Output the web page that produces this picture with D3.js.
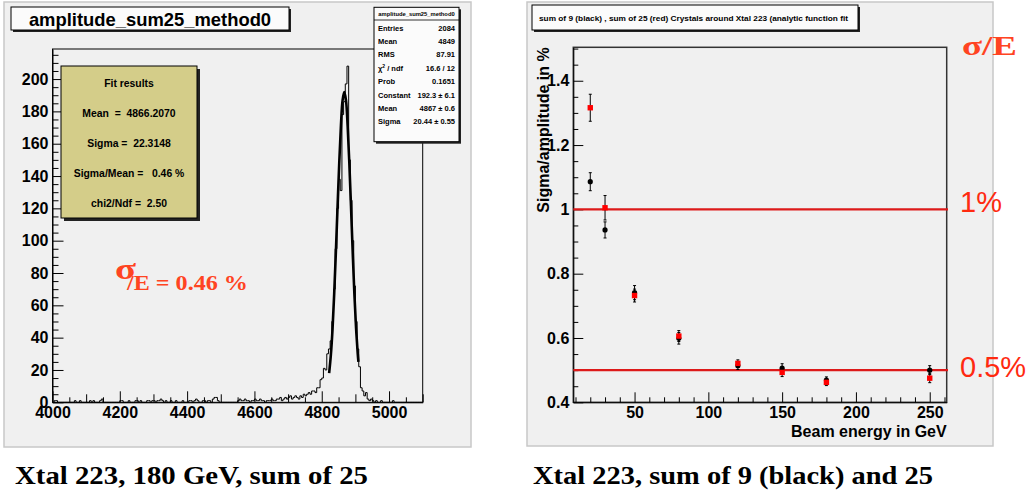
<!DOCTYPE html>
<html>
<head>
<meta charset="utf-8">
<script src="https://cdn.jsdelivr.net/npm/d3@7"></script>
<style>
body { margin: 0; background: #fff; }
</style>
</head>
<body>
<div class="canvas"></div>
<script>
// ---- left: amplitude histogram (5 unit bins from 4000) ----
const histStart = 4000;
const histEnd = 5100;
const binWidth = 5;
const counts = [
    0, 1, 1, 0, 0, 0, 0, 0, 0, 0, 0, 0, 0, 1, 0, 0, 1, 0, 0, 0,
    0, 0, 1, 0, 1, 0, 0, 0, 1, 2, 0, 0, 0, 0, 0, 0, 0, 0, 0, 0,
    1, 1, 0, 0, 0, 1, 0, 0, 0, 1, 1, 0, 1, 0, 0, 0, 1, 1, 0, 1,
    1, 0, 1, 1, 2, 1, 0, 1, 0, 0, 1, 0, 0, 1, 0, 0, 0, 1, 0, 0,
    0, 1, 1, 0, 1, 2, 1, 0, 0, 1, 1, 0, 1, 1, 0, 2, 3, 3, 1, 0,
    0, 0, 0, 0, 0, 0, 0, 0, 0, 0, 1, 2, 1, 1, 2, 1, 1, 0, 1, 1,
    2, 1, 1, 2, 1, 1, 0, 1, 1, 1, 2, 1, 1, 2, 2, 3, 1, 2, 3, 2,
    3, 4, 2, 3, 4, 3, 2, 4, 3, 5, 4, 5, 6, 5, 7, 7, 6, 9, 9, 14,
    15, 21, 20, 30, 33, 38, 50, 70, 95, 120, 138, 131, 178, 186, 197, 208, 150, 125, 100, 72,
    50, 33, 22, 9, 7, 4, 6, 2, 1, 2, 1, 0, 1, 0, 0, 1, 0, 0, 0, 0,
    0, 0, 1, 0, 0, 0, 0, 0, 0, 0, 0, 0, 0, 0, 0, 0, 0, 0, 0, 0
];
// gaussian fit curve
const fitE = [4822, 4827, 4832, 4837, 4842, 4847, 4852, 4857, 4862, 4867, 4872, 4877, 4882, 4887, 4892, 4897, 4902, 4907, 4909];
const fitN = [18, 29, 45, 67, 93, 121, 148, 171, 187, 192, 187, 171, 148, 121, 93, 67, 46, 30, 25];
const histXTicks = [4000, 4200, 4400, 4600, 4800, 5000];
const histYTicks = [0, 20, 40, 60, 80, 100, 120, 140, 160, 180, 200];
const statNames = ['Entries', 'Mean', 'RMS', 'χ', 'Prob', 'Constant', 'Mean', 'Sigma'];
const statValues = ['2084', '4849', '87.91', '16.6 / 12', '0.1651', '192.3 ± 6.1', '4867 ± 0.6', '20.44 ± 0.55'];
const fitLines = ['Fit results', 'Mean  =  4866.2070', 'Sigma =  22.3148', 'Sigma/Mean =   0.46 %', 'chi2/Ndf =  2.50'];

// ---- right: resolution vs beam energy ----
const energies = [20, 30, 50, 80, 120, 150, 180, 250];
const res9 = [1.086, 0.936, 0.741, 0.599, 0.514, 0.506, 0.469, 0.500];
const err9 = [0.028, 0.025, 0.022, 0.018, 0.012, 0.014, 0.010, 0.014];
const res25 = [1.316, 1.005, 0.732, 0.606, 0.521, 0.493, 0.462, 0.475];
const err25 = [0.042, 0.038, 0.020, 0.017, 0.011, 0.013, 0.010, 0.014];
const resXTicks = [50, 100, 150, 200, 250];
const resYTicks = [0.4, 0.6, 0.8, 1, 1.2, 1.4];
const refLines = [1, 0.5];
const refLabels = ['1%', '0.5%'];

const red = '#ff4422';
const sans = '"Liberation Sans", Arial, sans-serif';
const serif = '"Liberation Serif", "Times New Roman", serif';

const svg = d3.select('.canvas')
    .append('svg')
    .attr('width', 1027)
    .attr('height', 493)
    .attr('font-family', sans)

// draws a ROOT style box with a dark shadow
const shadowBox = (g, x, y, w, h, fill, off) => {
    g.append('rect').attr('x', x + off).attr('y', y + off).attr('width', w).attr('height', h).attr('fill', '#222');
    g.append('rect').attr('x', x).attr('y', y).attr('width', w).attr('height', h)
        .attr('fill', fill).attr('stroke', '#000').attr('stroke-width', 1);
}

const styleAxis = (g) => {
    g.attr('font-family', sans)
    g.selectAll('text').attr('font-size', 16).attr('font-weight', 'bold').attr('fill', '#000');
    g.selectAll('line').attr('stroke', '#000');
    g.select('.domain').attr('stroke', '#000');
}

// ================= left panel =================
const left = svg.append('g');
left.append('rect')
    .attr('x', 4).attr('y', 2).attr('width', 467).attr('height', 445)
    .attr('fill', '#f0f0f0').attr('stroke', '#c8c8c8').attr('stroke-width', 1.5);

const hx = d3.scaleLinear().domain([histStart, histEnd]).range([52.5, 422.7]);
const hy = d3.scaleLinear().domain([0, 218.6]).range([402.3, 49]);

left.append('rect')
    .attr('x', hx(histStart)).attr('y', hy(218.6))
    .attr('width', hx(histEnd) - hx(histStart)).attr('height', hy(0) - hy(218.6))
    .attr('fill', 'none').attr('stroke', '#000').attr('stroke-width', 1);

// histogram outline
const bins = counts.map((c, i) => ({ e: histStart + i * binWidth, n: c }));
const stepLine = d3.line()
    .x(d => hx(d.e))
    .y(d => hy(d.n))
    .curve(d3.curveStepAfter);
left.append('path')
    .datum([{ e: histStart, n: 0 }, ...bins, { e: histEnd, n: counts[counts.length - 1] }])
    .attr('fill', 'none')
    .attr('stroke', '#000')
    .attr('stroke-width', 1)
    .attr('d', stepLine);

// fit curve
const fitLine = d3.line()
    .x((d, i) => hx(fitE[i]))
    .y(d => hy(d))
    .curve(d3.curveCatmullRom);
left.append('path')
    .datum(fitN)
    .attr('fill', 'none')
    .attr('stroke', '#000')
    .attr('stroke-width', 2.6)
    .attr('d', fitLine);

// axes, ticks point inward like ROOT
const hxAxis = d3.axisBottom(hx)
    .tickValues(d3.range(histStart, histEnd + 1, 50))
    .tickSizeInner(-5).tickSizeOuter(0).tickPadding(4)
    .tickFormat(d => histXTicks.includes(d) ? d : '');
const hxG = left.append('g').attr('transform', `translate(0, ${hy(0)})`).call(hxAxis);
hxG.selectAll('.tick line').attr('y2', d => d % 200 === 0 ? -11 : d % 100 === 0 ? -8 : -5);
styleAxis(hxG);

const hyAxis = d3.axisLeft(hy)
    .tickValues(d3.range(0, 216, 5))
    .tickSizeInner(-6).tickSizeOuter(0).tickPadding(4)
    .tickFormat(d => histYTicks.includes(d) ? d : '');
const hyG = left.append('g').attr('transform', `translate(${hx(histStart)}, 0)`).call(hyAxis);
hyG.selectAll('.tick line').attr('x2', d => histYTicks.includes(d) ? 11 : 6);
styleAxis(hyG);

// fit results box
shadowBox(left, 61, 66, 136, 152, '#d4cd89', 3);
left.selectAll('.fitline')
    .data(fitLines)
    .enter()
    .append('text')
    .attr('class', 'fitline')
    .attr('x', 129)
    .attr('y', (d, i) => 86.5 + i * 30.2)
    .attr('text-anchor', 'middle')
    .attr('font-size', 10.4)
    .attr('font-weight', 'bold')
    .style('white-space', 'pre')
    .text(d => d);

// statistics box
shadowBox(left, 374, 7.3, 85, 134.4, '#fbfbfb', 2);
left.append('text')
    .attr('x', 416.5).attr('y', 15.6)
    .attr('text-anchor', 'middle')
    .attr('font-size', 5.8).attr('font-weight', 'bold')
    .text('amplitude_sum25_method0');
left.append('line')
    .attr('x1', 374).attr('x2', 459).attr('y1', 20).attr('y2', 20)
    .attr('stroke', '#000').attr('stroke-width', 0.8);
const statRows = left.selectAll('.stat')
    .data(statNames)
    .enter()
    .append('g')
    .attr('class', 'stat')
    .attr('transform', (d, i) => `translate(0, ${30.5 + i * 13.4})`);
const statText = statRows.append('text')
    .attr('x', 378)
    .attr('font-size', 7.5).attr('font-weight', 'bold');
statText.append('tspan').text(d => d);
statText.filter(d => d === 'χ').append('tspan').attr('dy', -3).attr('font-size', 5).text('2');
statText.filter(d => d === 'χ').append('tspan').attr('dy', 3).text(' / ndf');
statRows.append('text')
    .attr('x', 455)
    .attr('text-anchor', 'end')
    .attr('font-size', 7.5).attr('font-weight', 'bold')
    .text((d, i) => statValues[i]);

// title box
shadowBox(left, 11, 7, 278, 23, '#fbfbfb', 2);
left.append('text')
    .attr('x', 150).attr('y', 26)
    .attr('text-anchor', 'middle')
    .attr('font-size', 18.4).attr('font-weight', 'bold')
    .text('amplitude_sum25_method0');

// red annotation
left.append('text')
    .attr('x', 115).attr('y', 279)
    .attr('font-family', serif).attr('font-size', 30).attr('font-weight', 'bold')
    .attr('fill', red)
    .attr('textLength', 21).attr('lengthAdjust', 'spacingAndGlyphs')
    .text('σ');
left.append('text')
    .attr('x', 127).attr('y', 289.5)
    .attr('font-family', serif).attr('font-size', 20).attr('font-weight', 'bold')
    .attr('fill', red)
    .attr('textLength', 121).attr('lengthAdjust', 'spacingAndGlyphs')
    .text('/E = 0.46 %');

svg.append('text')
    .attr('x', 15).attr('y', 484)
    .attr('font-family', serif).attr('font-size', 26).attr('font-weight', 'bold')
    .attr('textLength', 353).attr('lengthAdjust', 'spacingAndGlyphs')
    .text('Xtal 223, 180 GeV, sum of 25');

// ================= right panel =================
const right = svg.append('g');
right.append('rect')
    .attr('x', 527).attr('y', 2).attr('width', 466).attr('height', 444)
    .attr('fill', '#f0f0f0').attr('stroke', '#c8c8c8').attr('stroke-width', 1.5);

const rx = d3.scaleLinear().domain([8.5, 261.5]).range([573.3, 946.7]);
const ry = d3.scaleLinear().domain([0.4, 1.504]).range([402.3, 47.3]);

right.append('rect')
    .attr('x', rx(8.5)).attr('y', ry(1.504))
    .attr('width', rx(261.5) - rx(8.5)).attr('height', ry(0.4) - ry(1.504))
    .attr('fill', 'none').attr('stroke', '#333').attr('stroke-width', 1.5);

const rxAxis = d3.axisBottom(rx)
    .tickValues(d3.range(10, 261, 10))
    .tickSizeInner(-5).tickSizeOuter(0).tickPadding(4)
    .tickFormat(d => resXTicks.includes(d) ? d : '');
const rxG = right.append('g').attr('transform', `translate(0, ${ry(0.4)})`).call(rxAxis);
rxG.selectAll('.tick line').attr('y2', d => d % 50 === 0 ? -10 : -5);
styleAxis(rxG);

const isMajorY = d => resYTicks.some(t => Math.abs(t - d) < 1e-6);
const ryAxis = d3.axisLeft(ry)
    .tickValues(d3.range(0, 23).map(i => 0.4 + i * 0.05))
    .tickSizeInner(-5).tickSizeOuter(0).tickPadding(4)
    .tickFormat(d => isMajorY(d) ? String(resYTicks.find(t => Math.abs(t - d) < 1e-6)) : '');
const ryG = right.append('g').attr('transform', `translate(${rx(8.5)}, 0)`).call(ryAxis);
ryG.selectAll('.tick line').attr('x2', d => isMajorY(d) ? 10 : 5);
styleAxis(ryG);

// axis titles
right.append('text')
    .attr('x', 946.7).attr('y', 436.7)
    .attr('text-anchor', 'end')
    .attr('font-size', 16).attr('font-weight', 'bold')
    .text('Beam energy in GeV');
right.append('text')
    .attr('transform', `translate(548.5, ${ry(1.504)}) rotate(-90)`)
    .attr('text-anchor', 'end')
    .attr('font-size', 16).attr('font-weight', 'bold')
    .text('Sigma/amplitude in %');

// reference lines at 1% and 0.5%
right.selectAll('.ref')
    .data(refLines)
    .enter()
    .append('line')
    .attr('class', 'ref')
    .attr('x1', rx(8.5)).attr('x2', 948)
    .attr('y1', d => ry(d)).attr('y2', d => ry(d))
    .attr('stroke', '#dd1a1a').attr('stroke-width', 2.2);
right.selectAll('.reflabel')
    .data(refLines)
    .enter()
    .append('text')
    .attr('class', 'reflabel')
    .attr('x', 960)
    .attr('y', (d, i) => ry(d) + (i === 0 ? 2.5 : 6.5))
    .attr('font-size', 29)
    .attr('fill', '#ff2a10')
    .text((d, i) => refLabels[i]);

// error bars and markers
const drawSeries = (vals, errs, cls) => {
    const g = right.append('g').attr('class', cls);
    const pts = energies.map((e, i) => ({ e: e, v: vals[i], s: errs[i] }));
    g.selectAll('.bar').data(pts).enter().append('path')
        .attr('class', 'bar')
        .attr('d', d => {
            const x = rx(d.e), y0 = ry(d.v - d.s), y1 = ry(d.v + d.s);
            return `M${x},${y0}V${y1}M${x - 1.5},${y0}H${x + 1.5}M${x - 1.5},${y1}H${x + 1.5}`;
        })
        .attr('stroke', '#000').attr('stroke-width', 1).attr('fill', 'none');
    return { g, pts };
}

const black = drawSeries(res9, err9, 'sum9');
black.g.selectAll('circle').data(black.pts).enter().append('circle')
    .attr('cx', d => rx(d.e)).attr('cy', d => ry(d.v))
    .attr('r', 2.6).attr('fill', '#000');

const reds = drawSeries(res25, err25, 'sum25');
reds.g.selectAll('rect').data(reds.pts).enter().append('rect')
    .attr('x', d => rx(d.e) - 2.7).attr('y', d => ry(d.v) - 2.7)
    .attr('width', 5.4).attr('height', 5.4).attr('fill', '#ff0000');

// title box
shadowBox(right, 532, 5, 326, 25, '#fbfbfb', 2);
right.append('text')
    .attr('x', 539).attr('y', 20.5)
    .attr('font-size', 7.3).attr('font-weight', 'bold')
    .attr('textLength', 309).attr('lengthAdjust', 'spacingAndGlyphs')
    .text('sum of 9 (black) , sum of 25 (red) Crystals around Xtal 223 (analytic function fit');

svg.append('text')
    .attr('x', 962).attr('y', 55)
    .attr('font-family', serif).attr('font-size', 28).attr('font-weight', 'bold')
    .attr('fill', red)
    .attr('textLength', 55).attr('lengthAdjust', 'spacingAndGlyphs')
    .text('σ/E');

svg.append('text')
    .attr('x', 533).attr('y', 484)
    .attr('font-family', serif).attr('font-size', 26).attr('font-weight', 'bold')
    .attr('textLength', 400).attr('lengthAdjust', 'spacingAndGlyphs')
    .text('Xtal 223, sum of 9 (black) and 25');
</script>
</body>
</html>
